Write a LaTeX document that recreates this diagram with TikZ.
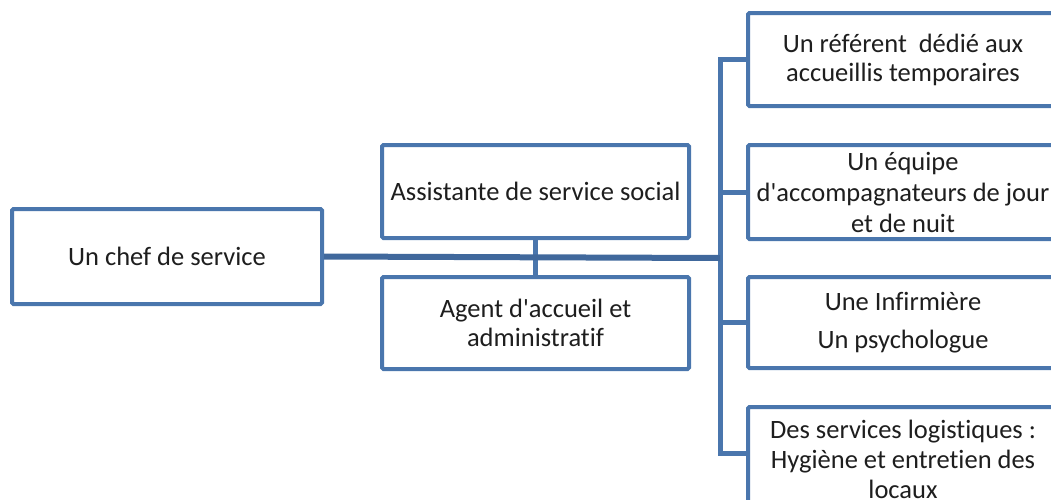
\documentclass[tikz,border=0pt]{standalone}
\usepackage{fontspec}
\setmainfont{Carlito}[Ligatures=CommonOff]
\definecolor{lineblue}{RGB}{74,118,173}
\definecolor{mainblue}{RGB}{64,104,156}
\definecolor{txt}{RGB}{30,30,30}
\newcommand{\apos}{\textquotesingle}
\begin{document}
\begin{tikzpicture}[x=1pt,y=-1pt,
  box/.style={draw=lineblue, line width=4pt, rounded corners=1.5pt, fill=white,
    align=center, text=txt, inner sep=0pt, font=\fontsize{26.5}{29}\selectfont},
  conn/.style={draw=lineblue, line width=5pt},
  mainconn/.style={draw=mainblue, line width=6pt}]
\useasboundingbox (0,0) rectangle (1051,499);

\node[box, minimum width=310pt, minimum height=95pt] (chef) at (167,256.5) {Un chef de service};
\node[box, minimum width=307pt, minimum height=93pt] (assist) at (535.5,191.5) {Assistante de service social};
\node[box, minimum width=307pt, minimum height=92pt] (agent) at (535.5,323) {Agent d\apos accueil et\\administratif};

\node[box, minimum width=310pt, minimum height=93pt] (r1) at (903,59.5) {Un référent~~dédié aux\\accueillis temporaires};
\node[box, minimum width=310pt, minimum height=94pt, font=\fontsize{26.5}{31}\selectfont] (r2) at (903,192) {Un équipe\\d\apos accompagnateurs de jour\\et de nuit};
\node[box, minimum width=310pt, minimum height=91pt, font=\fontsize{26.5}{38}\selectfont] (r3) at (903,322.5) {Une Infirmière\\Un psychologue};
\node[box, minimum width=310pt, minimum height=104pt, font=\fontsize{26.5}{30}\selectfont] (r4) at (903,459) {Des services logistiques :\\Hygiène et entretien des\\locaux};

\coordinate (J) at (720,258);

\draw[conn] (assist.south) -- (agent.north);
\draw[conn] (J) |- (r1.west);
\draw[conn] (J) |- (r2.west);
\draw[conn] (J) |- (r3.west);
\draw[conn] (J) |- ([yshift=6pt]r4.west);
\draw[mainconn] (chef.east) -- (J);
\end{tikzpicture}
\end{document}
